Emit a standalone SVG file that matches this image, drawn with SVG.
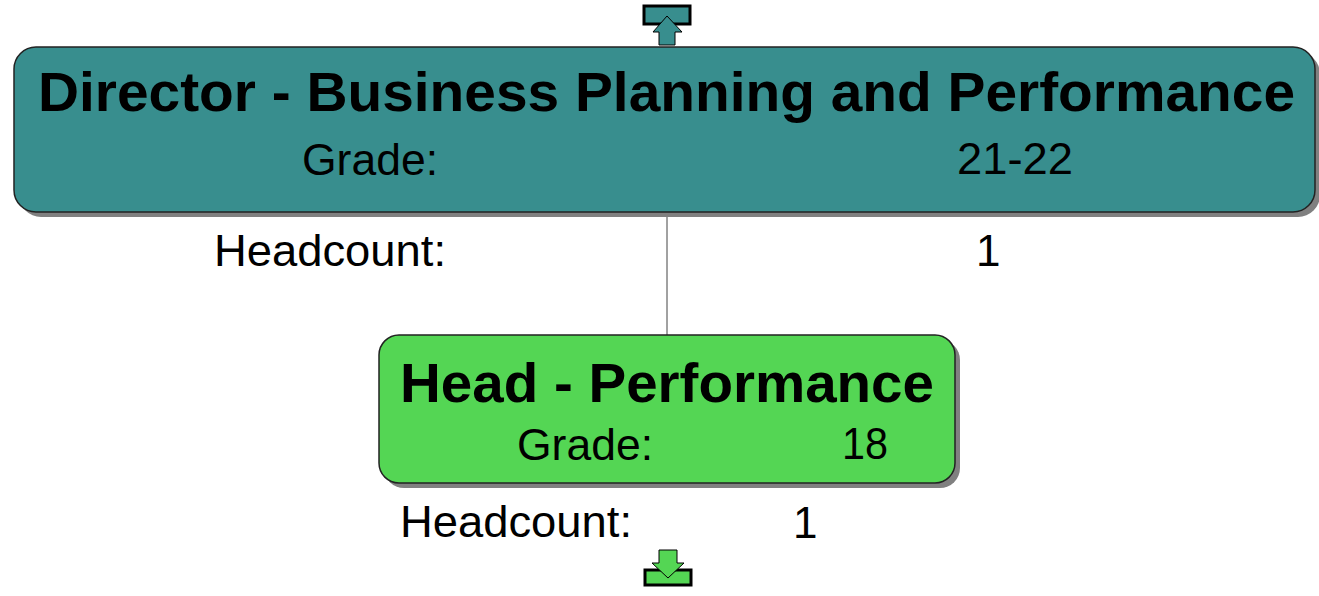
<svg xmlns="http://www.w3.org/2000/svg" width="1319" height="596" viewBox="0 0 1319 596">
<style>
.t{font-family:"Liberation Sans",Arial,sans-serif;font-size:55px;font-weight:bold;fill:#000}
.n{font-family:"Liberation Sans",Arial,sans-serif;font-size:44px;fill:#000}
.sh{fill:#808080}
.box{stroke:#222;stroke-width:1.5}
.teal{fill:#388e8e}
.green{fill:#54d654}
.icon{stroke:#000;stroke-width:3}
.arr{stroke:#000;stroke-width:1}
</style>
<rect width="1319" height="596" fill="#fff"/>
<g id="connectors">
<line x1="667" y1="212" x2="667" y2="335" stroke="#444" stroke-width="1"/>
</g>
<g id="node-director">
<rect class="sh" x="19" y="52" width="1301" height="165" rx="22"/>
<rect class="box teal" x="14" y="47" width="1301" height="165" rx="22"/>
<text class="t" x="38" y="111" textLength="1257" lengthAdjust="spacingAndGlyphs">Director - Business Planning and Performance</text>
<text class="n" x="302" y="175" textLength="136" lengthAdjust="spacingAndGlyphs">Grade:</text>
<text class="n" x="957" y="174" textLength="116" lengthAdjust="spacingAndGlyphs">21-22</text>
<text class="n" x="214" y="266" textLength="232" lengthAdjust="spacingAndGlyphs">Headcount:</text>
<text class="n" x="976" y="266">1</text>
<g id="icon-up">
<rect class="icon teal" x="644" y="6" width="46" height="18"/>
<polygon class="arr teal" points="667,16 682,32 675,32 675,45 659,45 659,32 653,32"/>
</g>
</g>
<g id="node-head">
<rect class="sh" x="384" y="340" width="576" height="148" rx="20"/>
<rect class="box green" x="379" y="335" width="576" height="148" rx="20"/>
<text class="t" x="400" y="402" textLength="534" lengthAdjust="spacingAndGlyphs">Head - Performance</text>
<text class="n" x="517" y="460" textLength="136" lengthAdjust="spacingAndGlyphs">Grade:</text>
<text class="n" x="842" y="459" textLength="46" lengthAdjust="spacingAndGlyphs">18</text>
<text class="n" x="400" y="537" textLength="232" lengthAdjust="spacingAndGlyphs">Headcount:</text>
<text class="n" x="793" y="538">1</text>
<g id="icon-down">
<rect class="icon green" x="645" y="570" width="46" height="15"/>
<polygon class="arr green" points="659,550 677,550 677,563 684,563 668,578 652,563 659,563"/>
</g>
</g>
</svg>
